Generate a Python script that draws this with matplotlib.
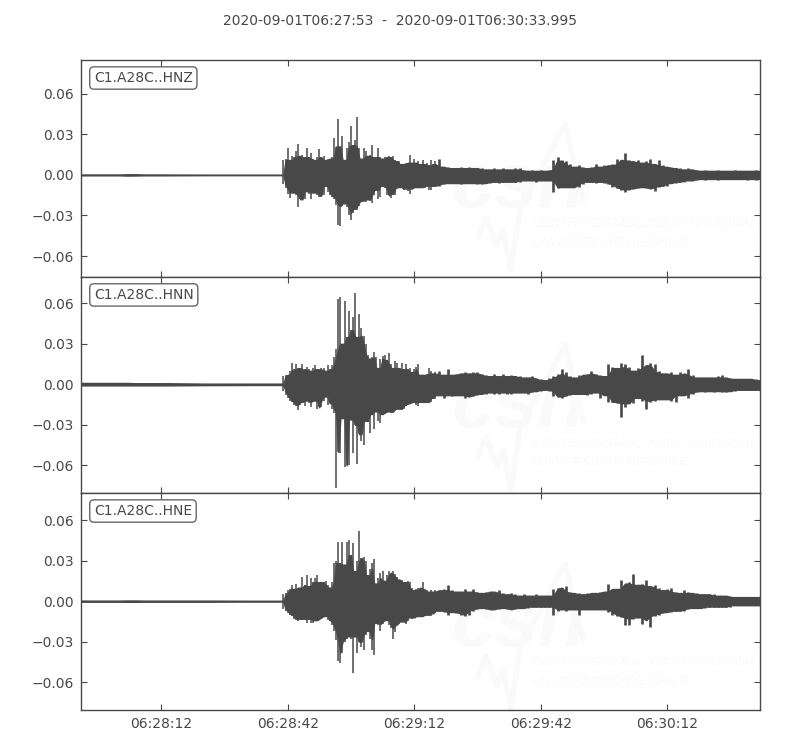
#!/bin/python3
import matplotlib
matplotlib.use("Agg")
import matplotlib.pyplot as plt
import numpy as np

title = "2020-09-01T06:27:53  -  2020-09-01T06:30:33.995"
channels = ["C1.A28C..HNZ", "C1.A28C..HNN", "C1.A28C..HNE"]
tick_secs = [19, 49, 79, 109, 139]
tick_labels = ["06:28:12", "06:28:42", "06:29:12", "06:29:42", "06:30:12"]
yticks = [-0.06, -0.03, 0.0, 0.03, 0.06]
ylims = [(-0.0755, 0.085), (-0.0805, 0.0795), (-0.0805, 0.08)]

# seconds after 06:27:53, amplitudes below are in 0.001 units
t_pre = [0, 5, 9, 11, 13, 15, 20, 30, 40, 47.5]
t_fine = np.arange(48, 84.5, 0.5)
t_tail = np.arange(85, 162, 1.0)

# pre-event noise
z_pre_up = [0.3, 0.3, 0.5, 0.9, 0.9, 0.5, 0.3, 0.3, 0.2, 0.2]
z_pre_lo = [0.3, 0.3, 0.5, 0.9, 0.8, 0.4, 0.3, 0.3, 0.2, 0.2]
n_pre_up = [1.0, 1.0, 1.0, 1.4, 1.2, 0.8, 0.8, 0.8, 0.5, 0.5]
n_pre_lo = [0.8, 0.8, 0.8, 1.2, 1.0, 0.8, 0.9, 1.0, 0.6, 0.5]
e_pre_up = [0.4, 0.4, 0.5, 1.0, 1.0, 0.5, 0.4, 0.4, 0.4, 0.3]
e_pre_lo = [0.4, 0.4, 0.5, 1.0, 1.0, 0.5, 0.4, 0.4, 0.4, 0.3]

# strong motion 48-84 s
z_fine_up = [11, 12, 20, 11, 14, 13, 18, 23, 14, 15, 13, 20, 13, 16, 12, 11, 13, 19, 13, 14,
             11, 12, 12, 13, 27, 21, 41, 21, 29, 11, 20, 24, 36, 22, 26, 43, 20, 12, 20, 18,
             14, 15, 22, 13, 13, 20, 13, 12, 13, 13, 14, 13, 14, 11, 10, 10, 8, 8, 9, 9,
             15, 9, 12, 9, 10, 8, 11, 8, 9, 7, 11, 8, 10]
z_fine_lo = [7, 10, 14, 17, 13, 13, 15, 24, 18, 18, 18, 12, 14, 18, 13, 13, 15, 16, 16, 15,
             8, 13, 15, 16, 18, 22, 37, 38, 23, 21, 24, 30, 33, 28, 25, 26, 23, 20, 19, 20,
             18, 19, 21, 15, 11, 18, 16, 8, 10, 15, 15, 17, 14, 15, 10, 9, 10, 11, 10, 12,
             14, 10, 10, 9, 10, 9, 9, 10, 8, 11, 11, 8, 8]
n_fine_up = [6, 7, 7, 10, 16, 11, 15, 12, 12, 15, 11, 13, 11, 10, 12, 14, 11, 11, 12, 12,
             10, 14, 11, 14, 20, 26, 63, 65, 30, 62, 35, 54, 40, 50, 68, 35, 52, 42, 36, 30,
             22, 19, 20, 24, 20, 12, 19, 21, 22, 18, 23, 15, 12, 17, 16, 12, 16, 11, 15, 11,
             12, 9, 11, 13, 15, 7, 7, 7, 8, 12, 10, 8, 9]
n_fine_lo = [5, 8, 10, 12, 13, 15, 16, 19, 15, 13, 16, 12, 14, 17, 13, 12, 18, 17, 17, 12,
             9, 15, 14, 18, 21, 77, 50, 51, 25, 61, 60, 60, 26, 51, 30, 59, 37, 42, 45, 27,
             28, 36, 22, 33, 20, 27, 29, 22, 22, 21, 20, 21, 21, 20, 18, 18, 19, 18, 16, 15,
             14, 14, 13, 15, 16, 13, 13, 14, 13, 14, 13, 10, 11]
e_fine_up = [5, 6, 8, 9, 12, 9, 13, 10, 10, 18, 12, 19, 11, 17, 14, 17, 19, 14, 14, 14,
             15, 12, 10, 14, 28, 30, 44, 28, 44, 27, 44, 45, 34, 43, 22, 30, 52, 32, 33, 30,
             19, 24, 28, 31, 13, 17, 21, 22, 15, 19, 22, 21, 22, 20, 18, 16, 16, 14, 14, 15,
             14, 10, 8, 9, 10, 10, 14, 9, 8, 7, 8, 7, 8]
e_fine_lo = [6, 7, 9, 10, 11, 13, 14, 15, 13, 13, 14, 16, 13, 16, 16, 14, 14, 14, 13, 12,
             11, 14, 15, 18, 22, 29, 44, 46, 38, 30, 28, 26, 28, 53, 26, 38, 30, 34, 36, 25,
             22, 28, 36, 40, 16, 18, 22, 17, 15, 14, 18, 20, 28, 23, 18, 17, 15, 15, 17, 15,
             12, 13, 12, 12, 11, 11, 11, 11, 10, 10, 11, 9, 9]

# coda 85-161 s
z_tail_up = [12, 6, 6, 5, 5, 6, 5, 6, 5, 5, 5, 4, 4, 5, 4, 5, 4, 4, 5, 5,
             4, 3, 4, 3, 4, 3, 4, 11, 13, 11, 10, 8, 6, 7, 6, 5, 6, 8, 6, 7,
             7, 8, 12, 11, 16, 11, 10, 11, 9, 10, 12, 8, 11, 7, 6, 6, 5, 5, 4, 5,
             4, 4, 3, 4, 3, 3, 4, 3, 3, 3, 4, 3, 3, 3, 3, 4, 3]
z_tail_lo = [8, 7, 6, 6, 6, 7, 6, 6, 6, 7, 7, 6, 6, 5, 6, 5, 5, 5, 5, 5,
             4, 4, 4, 5, 4, 4, 4, 13, 10, 9, 9, 9, 9, 9, 7, 5, 5, 6, 5, 6,
             7, 9, 10, 11, 13, 11, 10, 10, 9, 10, 10, 12, 9, 8, 8, 6, 6, 5, 5, 4,
             4, 4, 3, 4, 3, 3, 4, 3, 3, 3, 3, 3, 3, 4, 3, 4, 3]
n_tail_up = [10, 7, 11, 7, 8, 8, 9, 8, 9, 9, 8, 7, 6, 8, 6, 8, 6, 7, 6, 6,
             5, 5, 6, 5, 4, 3, 5, 6, 8, 11, 9, 6, 5, 7, 7, 8, 10, 8, 7, 6,
             15, 13, 12, 16, 15, 13, 10, 12, 22, 14, 16, 15, 10, 8, 8, 9, 7, 9, 8, 11,
             7, 5, 5, 5, 5, 5, 6, 7, 5, 5, 4, 4, 4, 4, 4, 4, 3]
n_tail_lo = [8, 10, 8, 9, 8, 8, 10, 9, 9, 8, 7, 7, 6, 7, 7, 6, 7, 7, 6, 6,
             6, 7, 6, 5, 5, 4, 5, 9, 9, 10, 9, 8, 7, 7, 7, 8, 7, 6, 10, 8,
             13, 13, 14, 24, 17, 14, 14, 10, 12, 18, 13, 12, 11, 11, 11, 12, 13, 8, 8, 10,
             7, 6, 5, 6, 5, 6, 5, 6, 6, 5, 5, 4, 4, 4, 4, 4, 4]
e_tail_up = [8, 9, 12, 8, 7, 7, 9, 7, 9, 7, 6, 7, 7, 7, 8, 6, 5, 6, 5, 4,
             5, 4, 4, 5, 4, 4, 4, 9, 10, 10, 11, 7, 6, 6, 5, 6, 6, 6, 7, 7,
             13, 9, 9, 16, 13, 14, 20, 12, 13, 16, 11, 12, 10, 8, 9, 10, 7, 6, 8, 7,
             6, 6, 5, 5, 5, 5, 4, 4, 4, 4, 3, 3, 3, 3, 3, 3, 3]
e_tail_lo = [7, 8, 10, 8, 9, 10, 11, 10, 7, 6, 5, 6, 6, 6, 6, 5, 6, 6, 6, 5,
             5, 5, 4, 4, 4, 4, 4, 10, 7, 6, 7, 6, 6, 10, 6, 6, 6, 6, 6, 6,
             8, 10, 11, 12, 18, 18, 13, 12, 17, 14, 19, 11, 10, 9, 8, 8, 7, 7, 7, 6,
             5, 5, 5, 5, 4, 4, 4, 4, 4, 4, 3, 3, 3, 3, 3, 3, 3]

uppers = [z_pre_up + z_fine_up + z_tail_up, n_pre_up + n_fine_up + n_tail_up, e_pre_up + e_fine_up + e_tail_up]
lowers = [z_pre_lo + z_fine_lo + z_tail_lo, n_pre_lo + n_fine_lo + n_tail_lo, e_pre_lo + e_fine_lo + e_tail_lo]
t = np.concatenate([t_pre, t_fine, t_tail])

dark = "#484848"
W, H = 800, 750
tops = [60, 277, 493, 710]
mark_w = "#fafafa"
logo_x = [478, 486, 497, 503, 511, 520, 565, 583]
logo_y = [237, 217, 246, 230, 270, 208, 125, 200]


def core(v):
    # solid body of the trace: lowest of each value and its neighbours
    v = np.asarray(v)
    return np.minimum(np.minimum(np.r_[v[0], v[:-1]], v), np.r_[v[1:], v[-1]])


plt.rcParams["font.family"] = "DejaVu Sans"
plt.rcParams["font.size"] = 10
fig = plt.figure(figsize=(8, 7.5), dpi=100, facecolor="white")
fig.text(400 / W, 1 - 21 / H, title, ha="center", va="center", fontsize=10, color=dark)

n_pre = len(t_pre)
n_fine = len(t_fine)
for i, name in enumerate(channels):
    ax = fig.add_axes([81 / W, 1 - tops[i + 1] / H, 679 / W, (tops[i + 1] - tops[i]) / H])
    up = np.array(uppers[i]) / 1000.0
    lo = -np.array(lowers[i]) / 1000.0
    ax.fill_between(t, -core(-lo), core(up), color=dark, lw=1.0, zorder=3)
    ax.vlines(t_fine, lo[n_pre:n_pre + n_fine], up[n_pre:n_pre + n_fine], color=dark, lw=1.1, zorder=3)
    ax.vlines(t_tail, lo[n_pre + n_fine:], up[n_pre + n_fine:], color=dark, lw=1.9, zorder=3)

    # faint logo behind the trace
    dy = [0, 220, 439][i]
    ax.plot([x / W for x in logo_x], [1 - (y + dy) / H for y in logo_y], transform=fig.transFigure,
            color=mark_w, lw=4, zorder=1)
    ax.text(452 / W, 1 - (207 + dy) / H, "csn", transform=fig.transFigure, fontsize=56,
            family="Liberation Sans", fontweight="bold", style="italic", color=mark_w, zorder=1,
            va="baseline")
    ax.text(532 / W, 1 - (224 + dy) / H, "CENTRO SISMOLÓGICO NACIONAL", transform=fig.transFigure,
            fontsize=9.5, family="Liberation Sans", style="italic", color=mark_w, zorder=1, va="center")
    ax.text(532 / W, 1 - (243 + dy) / H, "UNIVERSIDAD DE CHILE", transform=fig.transFigure,
            fontsize=9.5, family="Liberation Sans", style="italic", color=mark_w, zorder=1, va="center")

    ax.set_xlim(0, 160.995)
    ax.set_ylim(*ylims[i])
    ax.set_yticks(yticks)
    ax.set_yticklabels(["\u22120.06", "\u22120.03", "0.00", "0.03", "0.06"])
    ax.set_xticks(tick_secs)
    if i == 2:
        ax.set_xticklabels(tick_labels)
    else:
        ax.set_xticklabels([])
    ax.tick_params(direction="in", top=True, right=True, length=4, width=0.8, color=dark,
                   labelcolor=dark, labelsize=10, pad=5)
    for sp in ax.spines.values():
        sp.set_color(dark)
        sp.set_linewidth(1.0)
    ax.text(0.019, 0.917, name, transform=ax.transAxes, fontsize=10, color=dark, va="center", zorder=5,
            bbox=dict(boxstyle="round,pad=0.3", fc="white", ec="#666666", lw=1.0))

fig.savefig("out.png", dpi=100, facecolor="white")
